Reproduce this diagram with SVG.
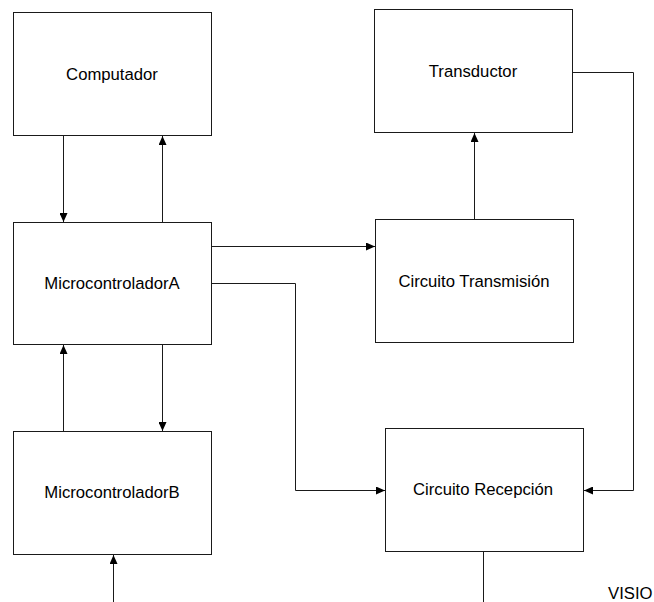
<svg xmlns="http://www.w3.org/2000/svg" width="654" height="602" viewBox="0 0 654 602">
  <style>
    .box { fill: #ffffff; stroke: #1a1a1a; stroke-width: 1; }
    .label { font-family: "Liberation Sans", Arial, sans-serif; font-size: 16.7px; fill: #000000; text-anchor: middle; dominant-baseline: central; }
    .wire { fill: none; stroke: #1a1a1a; stroke-width: 1; }
  </style>
  <defs>
    <marker id="arrow" markerUnits="userSpaceOnUse" markerWidth="9" markerHeight="8" refX="9" refY="4" orient="auto">
      <path d="M0,0 L9,4 L0,8 Z" fill="#000000"/>
    </marker>
  </defs>
  <rect width="654" height="602" fill="#ffffff"/>

  <g id="computador">
    <rect class="box" x="13.5" y="12.5" width="198" height="123"/>
    <text class="label" x="112" y="74">Computador</text>
  </g>
  <g id="transductor">
    <rect class="box" x="374.5" y="9.5" width="198" height="123"/>
    <text class="label" x="473" y="71">Transductor</text>
  </g>
  <g id="microcontrolador-a">
    <rect class="box" x="13.5" y="222.5" width="198" height="122"/>
    <text class="label" x="112" y="283">MicrocontroladorA</text>
  </g>
  <g id="circuito-transmision">
    <rect class="box" x="375.5" y="219.5" width="198" height="123"/>
    <text class="label" x="474" y="281">Circuito Transmisión</text>
  </g>
  <g id="microcontrolador-b">
    <rect class="box" x="13.5" y="431.5" width="198" height="123"/>
    <text class="label" x="112" y="492">MicrocontroladorB</text>
  </g>
  <g id="circuito-recepcion">
    <rect class="box" x="385.5" y="428.5" width="198" height="123"/>
    <text class="label" x="483" y="489.5">Circuito Recepción</text>
  </g>

  <g id="connectors">
    <line class="wire" x1="63.5" y1="136" x2="63.5" y2="222" marker-end="url(#arrow)"/>
    <line class="wire" x1="162.5" y1="222" x2="162.5" y2="136" marker-end="url(#arrow)"/>
    <line class="wire" x1="212" y1="246.5" x2="375" y2="246.5" marker-end="url(#arrow)"/>
    <polyline class="wire" points="212,283.5 295.5,283.5 295.5,490.5 385,490.5" marker-end="url(#arrow)"/>
    <line class="wire" x1="474.5" y1="219" x2="474.5" y2="133" marker-end="url(#arrow)"/>
    <polyline class="wire" points="573,72.5 633.5,72.5 633.5,490.5 584,490.5" marker-end="url(#arrow)"/>
    <line class="wire" x1="162.5" y1="345" x2="162.5" y2="431" marker-end="url(#arrow)"/>
    <line class="wire" x1="63.5" y1="431" x2="63.5" y2="345" marker-end="url(#arrow)"/>
    <line class="wire" x1="113.5" y1="602" x2="113.5" y2="555" marker-end="url(#arrow)"/>
    <line class="wire" x1="483.5" y1="552" x2="483.5" y2="602"/>
  </g>

  <text class="label" x="608" y="593" style="text-anchor: start;">VISIO</text>
</svg>
